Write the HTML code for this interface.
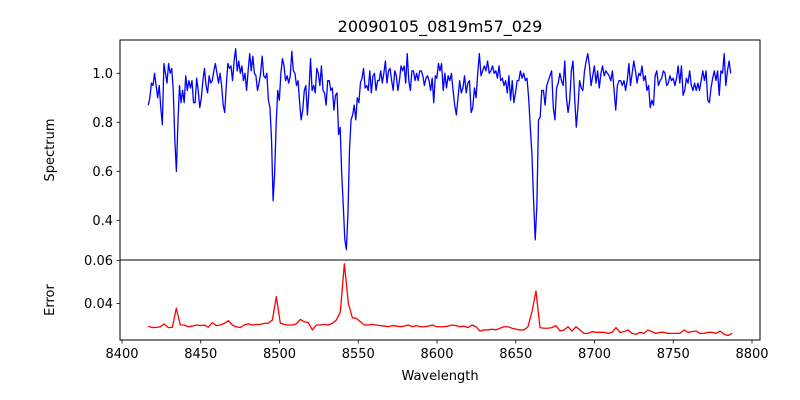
<!DOCTYPE html>
<html><head><meta charset="utf-8"><style>
body{margin:0;background:#fff}
svg{display:block;font-family:"DejaVu Sans","Liberation Sans",sans-serif}
</style></head><body>
<svg id="chart" width="800" height="400" viewBox="0 0 800 400" xmlns="http://www.w3.org/2000/svg">
<rect width="800" height="400" fill="#fff"/>
<defs>
<clipPath id="clipTop"><rect x="120" y="40" width="640" height="220"/></clipPath>
<clipPath id="clipBot"><rect x="120" y="260" width="640" height="80"/></clipPath>
</defs>
<text x="440" y="32" text-anchor="middle" font-size="16">20090105_0819m57_029</text>
<text transform="translate(54,150) rotate(-90)" text-anchor="middle" font-size="13">Spectrum</text>
<text transform="translate(54,300) rotate(-90)" text-anchor="middle" font-size="13">Error</text>
<text x="440" y="380" text-anchor="middle" font-size="13">Wavelength</text>
<g id="marks"></g>
<g id="axes"></g>
</svg>
<script>
// Spectrum flux, segment A (approx 8416.7 - 8601.9 A) and segment B (8601.9 - 8786.5 A)
const fluxA = [0.87,0.90,0.96,0.95,1.00,0.95,0.90,0.95,0.86,0.79,1.04,1.00,0.96,1.04,1.00,1.02,0.93,0.73,0.60,0.80,0.95,0.88,0.93,0.88,0.99,0.93,0.97,0.94,0.97,0.88,0.88,0.98,0.93,0.86,0.90,0.97,1.02,0.95,0.92,0.99,0.96,0.97,1.01,1.04,1.00,0.96,1.00,0.95,0.87,0.84,0.95,1.04,1.02,1.03,0.97,1.05,1.10,1.01,1.05,1.00,1.03,0.97,1.00,0.93,1.01,1.08,1.01,1.07,1.00,0.99,0.93,0.96,1.00,1.07,0.99,0.98,1.00,0.89,0.86,0.73,0.48,0.59,0.80,0.93,0.89,1.00,1.06,1.03,0.97,0.99,0.96,0.99,1.09,1.01,1.00,0.95,0.97,0.88,0.81,0.85,0.93,0.95,0.83,0.93,1.06,0.93,0.95,0.92,1.02,1.00,0.95,1.03,0.93,0.92,0.87,0.97,0.97,0.93,0.94,0.85,0.91,0.92,0.75,0.78,0.59,0.46,0.32,0.28,0.43,0.69,0.81,0.83,0.87,0.81,0.90,0.88,0.96,0.98,1.02,0.94,0.95,0.93,1.01,0.92,0.99,1.00,0.93,0.97,0.97,1.01,0.96,1.00,1.05,0.96,1.01,1.02,0.97,0.93,1.01,0.99,0.93,0.97,1.03,1.01,1.03,0.96,1.08,0.97,0.93,1.01,1.01,0.97,1.00,0.97,1.01,1.01,0.99,0.95,0.98,0.99,0.97,0.93,0.98,0.88,0.99,0.98,1.04,1.01];
const fluxB = [1.04,0.93,1.00,0.94,0.99,0.97,1.00,0.93,0.87,0.83,0.90,0.97,0.92,0.94,0.99,0.92,0.96,0.97,0.84,0.86,0.94,0.90,1.00,1.08,0.99,1.01,1.03,1.01,1.05,1.00,1.01,1.03,1.00,1.01,0.98,1.03,0.97,0.98,0.95,0.97,0.92,0.99,0.89,0.97,0.88,0.92,0.97,0.97,1.01,0.98,1.00,0.97,0.98,0.90,0.78,0.67,0.48,0.32,0.46,0.81,0.82,0.93,0.93,0.87,0.95,0.97,0.99,1.01,0.86,0.81,0.94,0.96,1.00,0.97,0.95,1.05,0.90,0.84,0.89,1.01,1.05,0.90,0.78,0.86,0.97,0.94,0.93,1.01,1.05,1.08,1.03,0.95,0.99,1.03,0.96,1.01,0.94,1.00,1.03,0.99,1.01,1.00,0.99,0.97,1.01,0.93,0.85,0.95,0.97,0.97,0.95,0.97,0.93,0.97,1.04,0.95,1.00,1.05,1.01,0.96,1.00,0.99,1.03,0.97,0.99,0.93,0.95,0.86,0.89,0.87,0.99,1.01,0.95,0.97,0.98,1.01,1.00,0.95,0.96,0.99,0.97,0.98,0.95,0.98,1.03,0.96,1.03,0.91,0.93,0.98,0.96,1.01,0.95,0.93,0.96,0.93,0.96,0.93,0.97,1.01,0.97,1.01,0.89,0.88,0.94,0.98,1.01,0.97,1.01,0.91,1.01,1.00,1.08,0.95,1.01,1.05,1.00];
const wlRangeA = [8416.7, 8601.9];
const wlRangeB = [8602.9, 8786.5];
// Error, segment A (8416.7 - 8599.6) and segment B (8601.9 - 8787.3)
const errA = [0.0294,0.0288,0.0289,0.0292,0.0305,0.0288,0.0289,0.0378,0.0300,0.0300,0.0292,0.0295,0.0300,0.0297,0.0300,0.0290,0.0311,0.0297,0.0300,0.0308,0.0320,0.0300,0.0292,0.0288,0.0300,0.0305,0.0300,0.0303,0.0303,0.0308,0.0308,0.0323,0.0432,0.0308,0.0303,0.0300,0.0300,0.0305,0.0326,0.0315,0.0311,0.0277,0.0300,0.0300,0.0303,0.0300,0.0308,0.0323,0.0362,0.0585,0.0400,0.0334,0.0331,0.0315,0.0300,0.0300,0.0303,0.0300,0.0297,0.0295,0.0292,0.0297,0.0295,0.0292,0.0295,0.0300,0.0292,0.0297,0.0292,0.0292,0.0295,0.0300,0.0292];
const errB = [0.0292,0.0292,0.0295,0.0300,0.0297,0.0292,0.0295,0.0288,0.0300,0.0292,0.0272,0.0277,0.0277,0.0281,0.0277,0.0285,0.0292,0.0292,0.0285,0.0281,0.0277,0.0277,0.0292,0.0362,0.0458,0.0288,0.0285,0.0285,0.0288,0.0297,0.0272,0.0277,0.0292,0.0272,0.0292,0.0277,0.0261,0.0261,0.0269,0.0266,0.0266,0.0266,0.0261,0.0266,0.0288,0.0266,0.0269,0.0277,0.0261,0.0257,0.0266,0.0261,0.0277,0.0269,0.0261,0.0266,0.0266,0.0261,0.0261,0.0261,0.0261,0.0277,0.0266,0.0269,0.0272,0.0261,0.0261,0.0266,0.0266,0.0261,0.0272,0.0257,0.0251,0.0261];
const errRangeA = [8416.7, 8599.6];
const errRangeB = [8601.9, 8787.3];
const xTicks = [8400,8450,8500,8550,8600,8650,8700,8750,8800];
const specTicks = [0.4,0.6,0.8,1.0];
const specTickLabels = ["0.4","0.6","0.8","1.0"];
const errTicks = [0.04,0.06];
const errTickLabels = ["0.04","0.06"];

const NS = "http://www.w3.org/2000/svg";
function xScale(w){ return 122 + (w - 8400) * 1.575; }
function ySpec(v){ return 73.3 - (v - 1.0) * 245; }
function yErr(e){ return 260.5 + (0.06 - e) * 2150; }
function grid(range, n){ const a=[]; for(let i=0;i<n;i++) a.push(range[0] + (range[1]-range[0]) * i/(n-1)); return a; }

const marks = document.getElementById('marks');
const axes = document.getElementById('axes');
function mk(tag, attrs, parent){ const e=document.createElementNS(NS,tag); for(const k in attrs) e.setAttribute(k,attrs[k]); parent.appendChild(e); return e; }

const specW = grid(wlRangeA, fluxA.length).concat(grid(wlRangeB, fluxB.length));
const specV = fluxA.concat(fluxB);
const errW = grid(errRangeA, errA.length).concat(grid(errRangeB, errB.length));
const errV = errA.concat(errB);

const sp = mk('polyline', {points: specW.map((w,i)=>xScale(w).toFixed(2)+','+ySpec(specV[i]).toFixed(2)).join(' '), fill:'none', stroke:'#0000ff', 'stroke-width':'1.3', 'stroke-linejoin':'round', 'clip-path':'url(#clipTop)'}, marks);


const er = mk('polyline', {points: errW.map((w,i)=>xScale(w).toFixed(2)+','+yErr(errV[i]).toFixed(2)).join(' '), fill:'none', stroke:'#ff0000', 'stroke-width':'1.3', 'stroke-linejoin':'round', 'clip-path':'url(#clipBot)'}, marks);



const f1 = mk('rect', {x:120, y:40, width:640, height:220, fill:'none', stroke:'#000', 'stroke-width':'1'}, axes);


const f2 = mk('rect', {x:120, y:260, width:640, height:80, fill:'none', stroke:'#000', 'stroke-width':'1'}, axes);



xTicks.forEach(t=>{
  const x = xScale(t);
  const l = mk('line', {x1:x, x2:x, y1:340, y2:343.5, stroke:'#000', 'stroke-width':'0.8'}, axes);
  
  
  const tx = mk('text', {x:x, y:358, 'text-anchor':'middle', 'font-size':'13'}, axes);
  tx.textContent = String(t);
  
  
});
specTicks.forEach((t,i)=>{
  const y = ySpec(t);
  const l = mk('line', {x1:116.5, x2:120, y1:y, y2:y, stroke:'#000', 'stroke-width':'0.8'}, axes);
  
  
  const tx = mk('text', {x:113, y:y+4.5, 'text-anchor':'end', 'font-size':'13'}, axes);
  tx.textContent = specTickLabels[i];
  
  
});
errTicks.forEach((t,i)=>{
  const y = yErr(t);
  const l = mk('line', {x1:116.5, x2:120, y1:y, y2:y, stroke:'#000', 'stroke-width':'0.8'}, axes);
  
  
  const tx = mk('text', {x:113, y:y+4.5, 'text-anchor':'end', 'font-size':'13'}, axes);
  tx.textContent = errTickLabels[i];
  
  
});
</script>
</body></html>
